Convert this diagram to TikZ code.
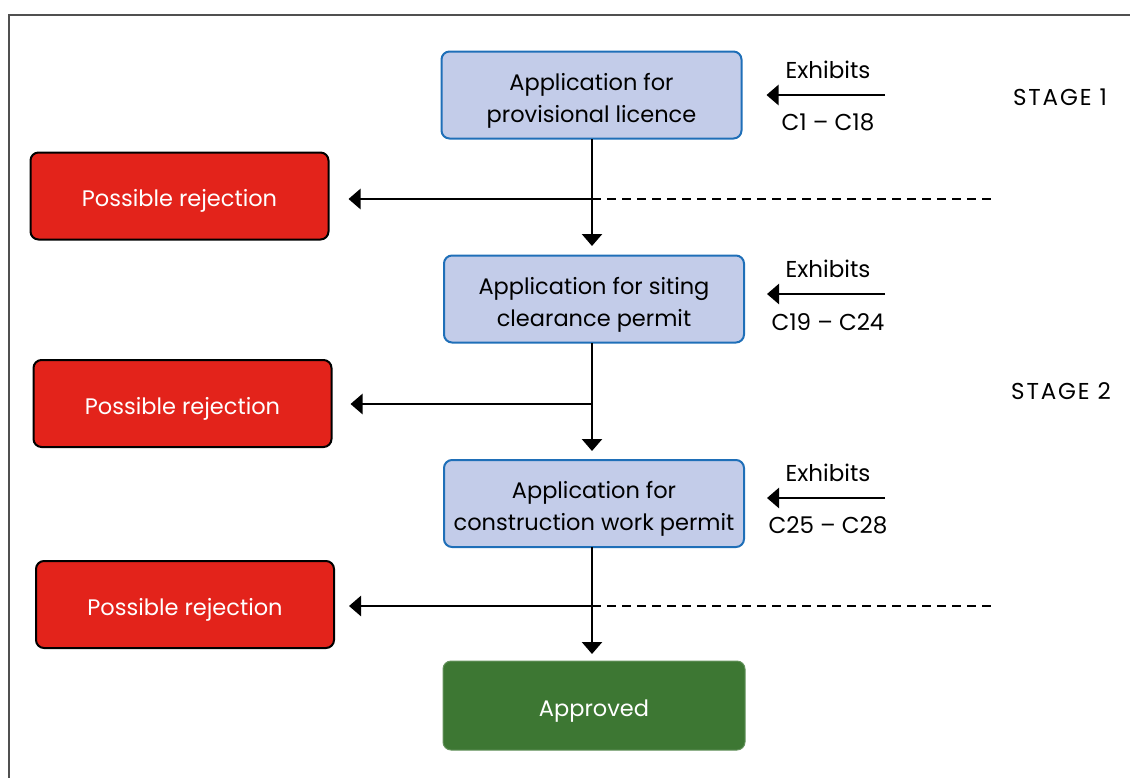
\documentclass[tikz,border=0pt]{standalone}
\usepackage{fontspec}
\setmainfont{Poppins}
\usetikzlibrary{arrows.meta,calc}
\definecolor{appfill}{HTML}{C3CCE9}
\definecolor{appline}{HTML}{1F6FB8}
\definecolor{rejfill}{HTML}{E3231B}
\definecolor{okfill}{HTML}{3D7733}
\definecolor{frameline}{HTML}{505050}
% strut that lowers a two-line label inside its box
\newcommand\firstline{\rule{0pt}{28pt}}
\tikzset{
  boxfont/.style={font=\fontsize{22.5}{32}\selectfont},
  appbox/.style={boxfont, draw=appline, line width=2pt, fill=appfill, rounded corners=8pt,
    minimum width=300pt, minimum height=87pt, align=center},
  single/.style={text height=27pt, text depth=5.6pt},
  rejbox/.style={boxfont, single, draw=black, line width=2pt, fill=rejfill, rounded corners=8pt,
    minimum width=298pt, minimum height=87pt, text=white},
  okbox/.style={boxfont, single, draw=okfill!80!white, line width=1pt, fill=okfill, rounded corners=8pt,
    minimum width=302pt, minimum height=89pt, text=white},
  lbl/.style={font=\fontsize{23}{32}\selectfont, inner sep=0pt},
  stagelbl/.style={font=\fontsize{23}{32}\selectfont\addfontfeature{LetterSpace=8}, inner sep=0pt},
  flow/.style={line width=2.6pt, -{Triangle[width=20pt,length=12pt]}},
  guide/.style={line width=2.6pt, dash pattern=on 9pt off 6pt},
}
\begin{document}
\begin{tikzpicture}[x=1pt,y=-1pt]
\useasboundingbox (0,0) rectangle (1130,777);
% outer frame (runs off the right and bottom edges)
\draw[frameline, line width=2pt] (1140,15) -- (9,15) -- (9,790);

% application stages
\node[appbox] (a1) at (591.5,95) {\firstline Application for\\provisional licence};
\node[appbox] (a2) at (594,299) {\firstline Application for siting\\clearance permit};
\node[appbox] (a3) at (594,503.5) {\firstline Application for\\construction work permit};
\node[okbox]  (ok) at (594,705.5) {Approved};

% rejection outcomes
\node[rejbox] (r1) at (179.5,196) {Possible rejection};
\node[rejbox] (r2) at (182.5,403.5) {Possible rejection};
\node[rejbox] (r3) at (185,604.5) {Possible rejection};

% exhibits
\node[lbl] (e1) at (828,70) {Exhibits};
\node[lbl] (c1) at (828,122) {C1 – C18};
\node[lbl] (e2) at (828,269) {Exhibits};
\node[lbl] (c2) at (828,322) {C19 – C24};
\node[lbl] (e3) at (828,473) {Exhibits};
\node[lbl] (c3) at (828,525) {C25 – C28};

% stage labels
\node[stagelbl] (s1) at (1060,97) {STAGE 1};
\node[stagelbl] (s2) at (1061,391) {STAGE 2};

% trunk coordinates
\coordinate (j1) at (592,199);
\coordinate (j2) at (592,404);
\coordinate (j3) at (592,606);
\coordinate (d1) at (996,199);
\coordinate (d3) at (996,606);
\coordinate (x1) at (885,95);
\coordinate (x2) at (885,294);
\coordinate (x3) at (885,498);

% main flow
\draw[flow, shorten >=9pt] (592,139) -- (592,255);
\draw[flow, shorten >=9pt] (592,343) -- (592,460);
\draw[flow, shorten >=7pt] (592,547) -- (592,661);

% branches to rejection
\draw[flow, shorten >=19pt] (j1) -- (j1 -| r1.east);
\draw[flow, shorten >=18pt] (j2) -- (j2 -| r2.east);
\draw[flow, shorten >=14pt] (j3) -- (j3 -| r3.east);
\draw[guide] (j1) -- (d1);
\draw[guide] (j3) -- (d3);

% exhibits feeding each application
\draw[flow, shorten >=24pt] (x1) -- (x1 -| a1.east);
\draw[flow, shorten >=22pt] (x2) -- (x2 -| a2.east);
\draw[flow, shorten >=22pt] (x3) -- (x3 -| a3.east);
\end{tikzpicture}
\end{document}
